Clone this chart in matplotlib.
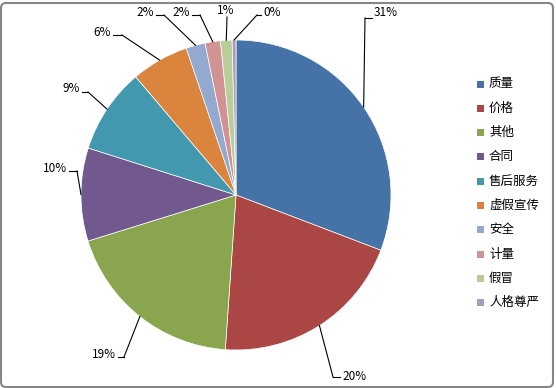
import matplotlib
matplotlib.use("Agg")
import matplotlib.pyplot as plt
import numpy as np
from matplotlib.patches import FancyBboxPatch

plt.rcParams['font.family'] = ['Noto Sans CJK SC', 'DejaVu Sans']

# données
categories = ['质量', '价格', '其他', '合同', '售后服务', '虚假宣传', '安全', '计量', '假冒', '人格尊严']
valeurs = [30.8, 20.3, 19.1, 9.7, 8.9, 6.0, 2.0, 1.6, 1.2, 0.4]
couleurs = ['#4572A7', '#AA4643', '#89A54E', '#71588F', '#4198AF',
            '#DB843D', '#93A9CF', '#D19392', '#B9CD96', '#A99BBD']

# mise en page (pixels) : coude de la ligne de rappel, bord du texte, côté, décalage vertical du texte
W, H = 556, 388
cx, cy, R = 236, 195, 155
coudes = [(365, 18), (333, 377), (124, 357), (77, 171), (88, 92),
          (122, 35), (164, 15), (200, 15), (227, 17), (257, 15)]
bords = [(373, 'left', 5), (341, 'left', 0), (117, 'right', 2), (68, 'right', 2), (81, 'right', 3),
         (112, 'right', 3), (155, 'right', 3), (191, 'right', 3), (226, 'center', 6), (262, 'left', 3)]

fig = plt.figure(figsize=(W / 100, H / 100), dpi=100)
ax = fig.add_axes([0, 0, 1, 1])

wedges, _ = ax.pie(valeurs, colors=couleurs, startangle=90, counterclock=False,
                   center=(cx, H - cy), radius=R,
                   wedgeprops=dict(edgecolor='white', linewidth=0.5))
ax.set_aspect('equal')
ax.set_xlim(0, W)
ax.set_ylim(0, H)
ax.axis('off')

total = sum(valeurs)
for w, v, (kx, ky), (tx, cote, dy) in zip(wedges, valeurs, coudes, bords):
    ang = np.deg2rad((w.theta1 + w.theta2) / 2)
    ex = cx + R * np.cos(ang)
    ey = (H - cy) + R * np.sin(ang)
    ax.plot([ex, kx], [ey, H - ky], color='black', lw=0.8)
    if cote == 'center':
        ax.text(tx, H - ky + dy, f"{round(v / total * 100):.0f}%", fontsize=8.5,
                ha='center', va='center')
        continue
    gap = 1 if cote == 'left' else -1
    ax.plot([kx, tx - gap], [H - ky, H - ky], color='black', lw=0.8)
    ax.text(tx + gap, H - ky + dy, f"{round(v / total * 100):.0f}%", fontsize=8.5,
            ha=cote, va='center')

# légende
for i, (cat, c) in enumerate(zip(categories, couleurs)):
    y = 84 + i * 24.3
    ax.add_patch(plt.Rectangle((477, H - y - 3.5), 7, 7, color=c, lw=0))
    ax.text(489, H - y, cat, fontsize=9, ha='left', va='center')

# cadre
fig.patches.append(FancyBboxPatch((1, 1), W - 4, H - 4, boxstyle="round,pad=0,rounding_size=5",
                                  transform=None, fill=False, edgecolor='#868686', lw=1.5))

fig.savefig('out.png', dpi=100)
